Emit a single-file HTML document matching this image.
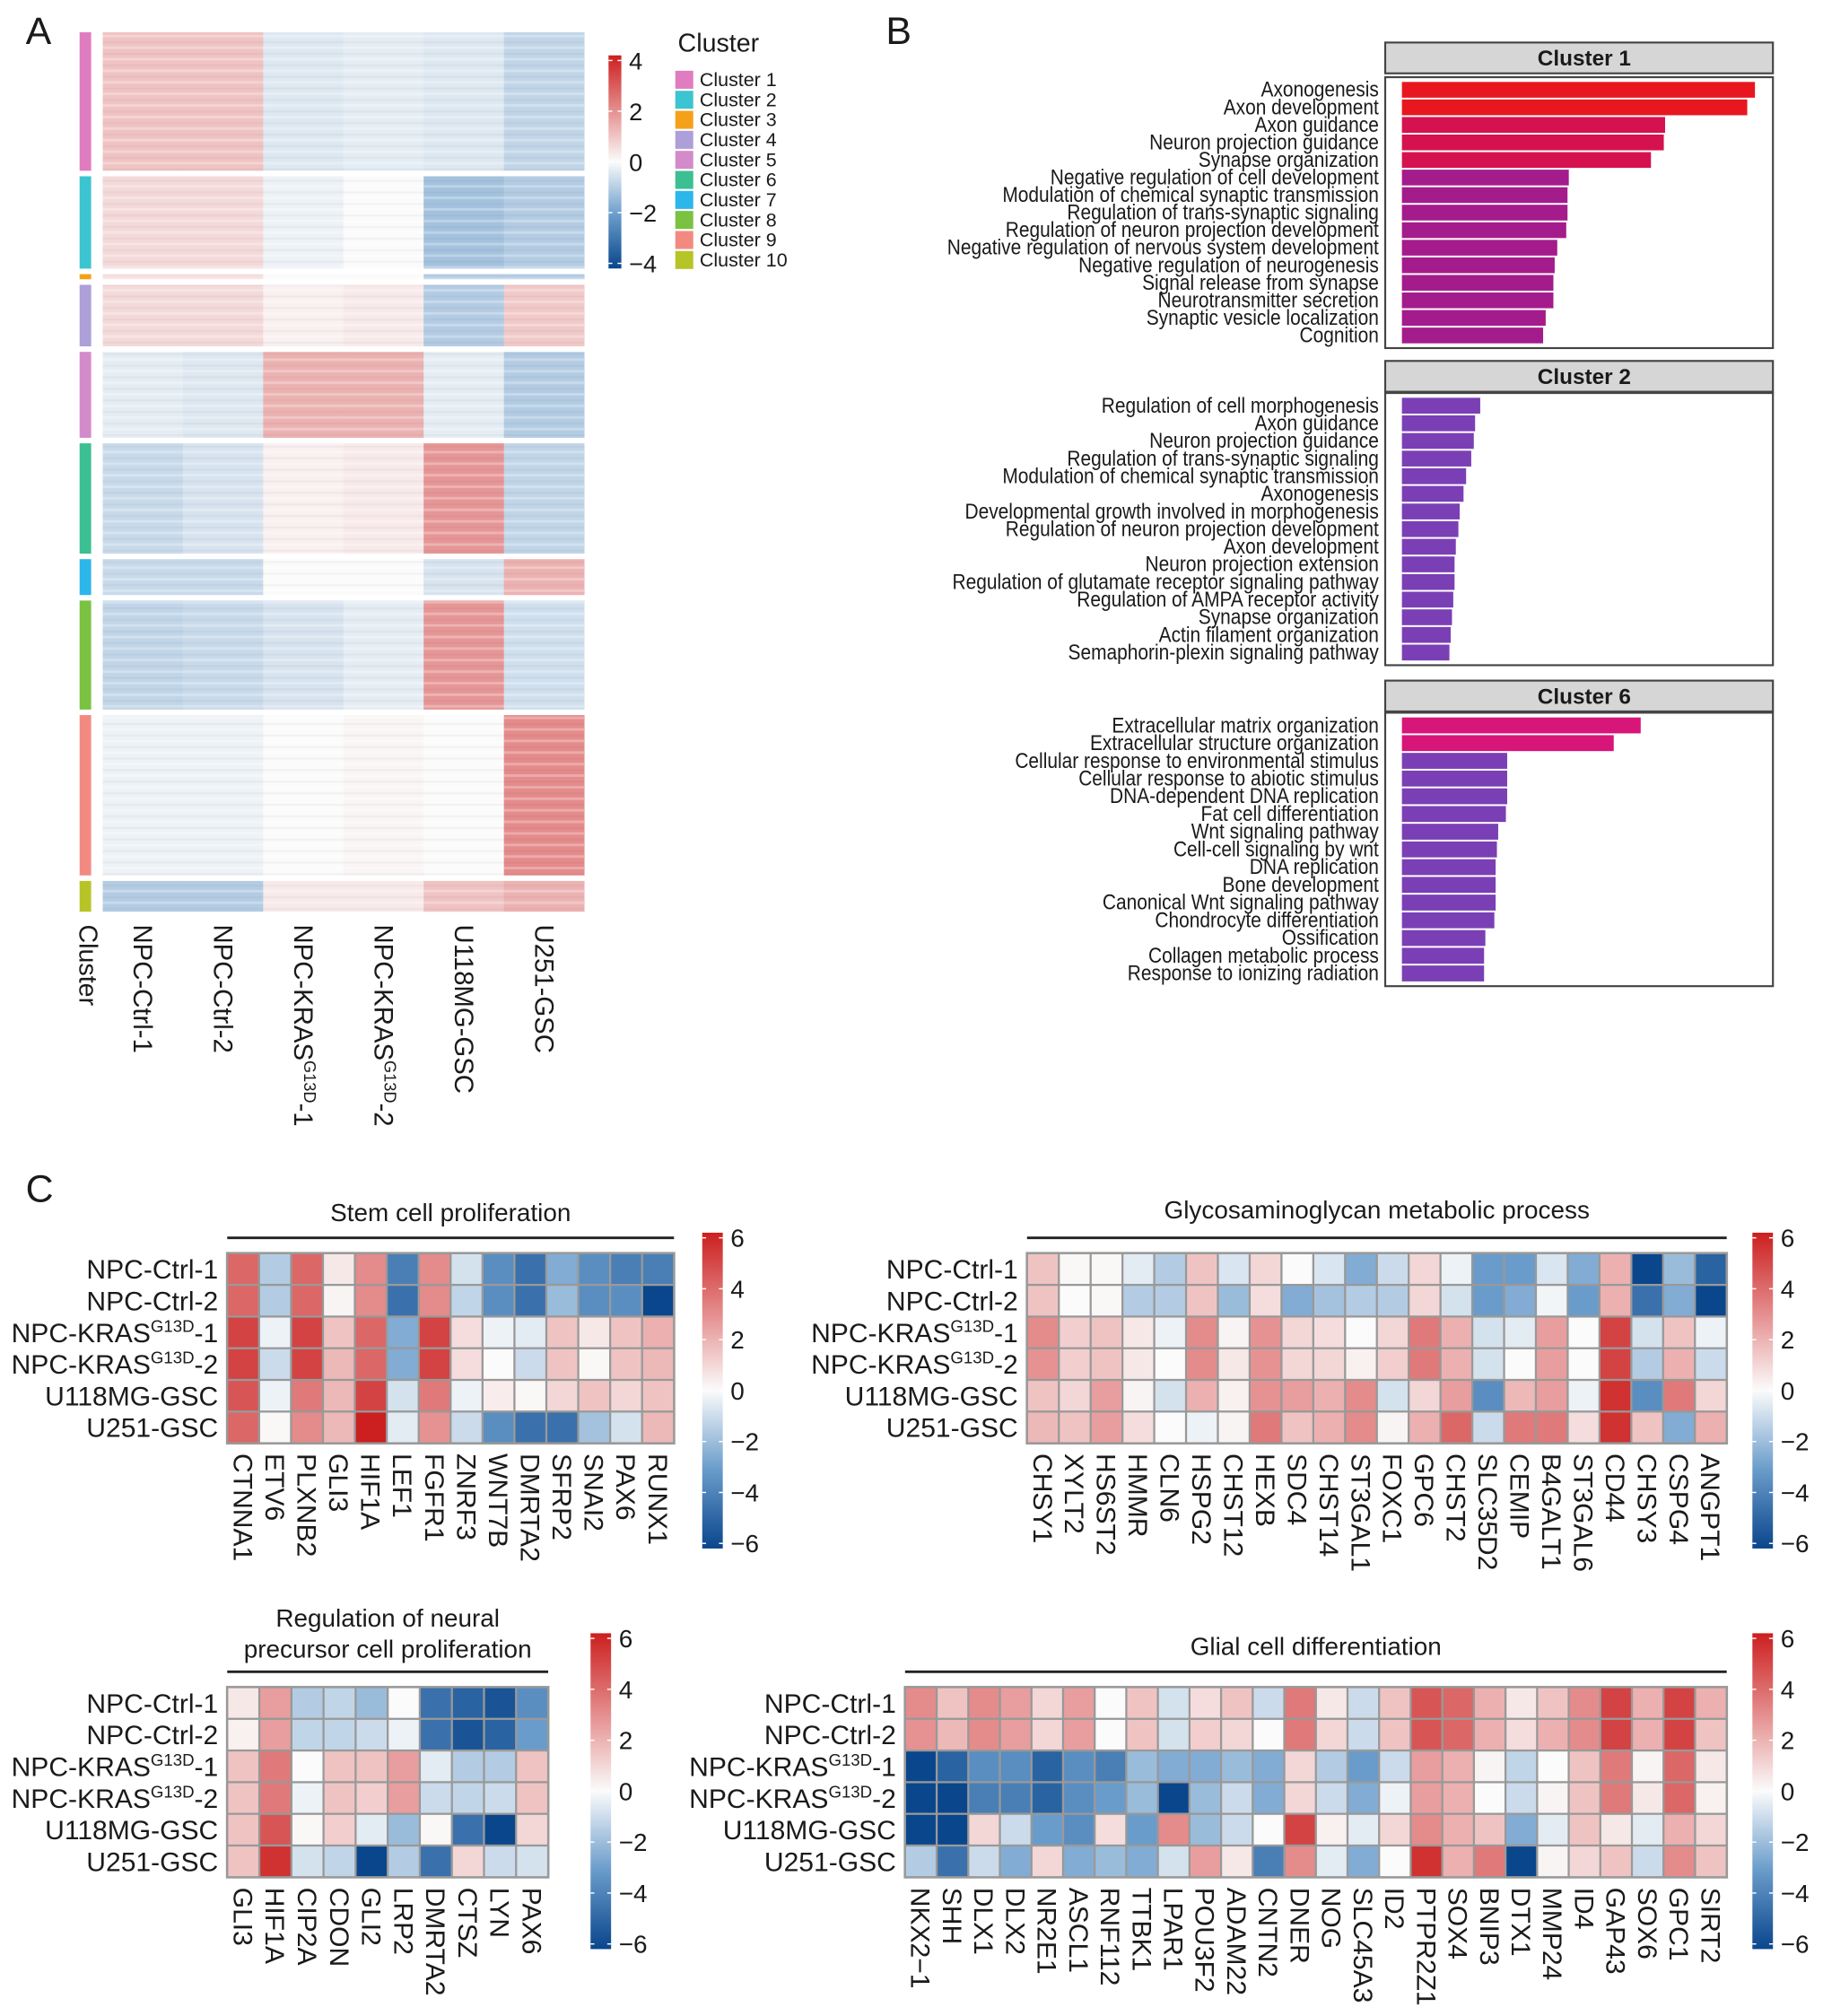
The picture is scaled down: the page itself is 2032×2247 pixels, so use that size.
<!DOCTYPE html>
<html><head><meta charset="utf-8"><style>
html,body{margin:0;padding:0;background:#fff}
svg{display:block}
text{font-family:"Liberation Sans",sans-serif;fill:#1a1a1a}
</style></head><body>
<svg id="fig" width="2032" height="2247" viewBox="0 0 1420 1570" xmlns="http://www.w3.org/2000/svg">
<text x="20" y="34" font-size="30">A</text>
<text x="690" y="34" font-size="30">B</text>
<text x="20" y="936" font-size="30">C</text>
</svg>
<script>
// ===== Panel A data =====
const samplesA = ["NPC-Ctrl-1","NPC-Ctrl-2","NPC-KRAS|-1","NPC-KRAS|-2","U118MG-GSC","U251-GSC"];
const clusterNames = ["Cluster 1","Cluster 2","Cluster 3","Cluster 4","Cluster 5","Cluster 6","Cluster 7","Cluster 8","Cluster 9","Cluster 10"];
const clusterSizes = [108,72,4,48,67,86,28,85,125,24];
const clusterColors = ["#e07cc0","#3cc4d0","#f5a01a","#ad9fd8","#d48bca","#3cbf92","#2cb6ea","#7bc243","#f28a82","#b7c428"];
const clusterMeans = [
 [1.0,1.0,-0.4,-0.3,-0.4,-0.8],
 [0.6,0.6,-0.2,0.0,-1.2,-1.0],
 [0.5,0.5,0.0,0.0,-1.0,-1.0],
 [0.6,0.6,0.2,0.3,-1.0,0.9],
 [-0.3,-0.4,1.3,1.3,-0.3,-1.0],
 [-0.7,-0.5,0.2,0.3,1.8,-0.8],
 [-0.7,-0.7,0.0,0.0,-0.5,1.3],
 [-0.8,-0.7,-0.5,-0.3,1.8,-0.6],
 [-0.2,-0.2,0.0,0.1,0.0,2.0],
 [-1.0,-1.0,0.3,0.3,1.0,1.3]];
const ticksA = [4,2,0,-2,-4];

// ===== Panel B data =====
const b1Terms = ["Axonogenesis","Axon development","Axon guidance","Neuron projection guidance","Synapse organization","Negative regulation of cell development","Modulation of chemical synaptic transmission","Regulation of trans-synaptic signaling","Regulation of neuron projection development","Negative regulation of nervous system development","Negative regulation of neurogenesis","Signal release from synapse","Neurotransmitter secretion","Synaptic vesicle localization","Cognition"];
const b1Vals = [275,269,205,204,194,130,129,129,128,121,119,118,118,112,110];
const b1Cols = ["#e8171f","#e8171f","#d5124f","#d5124f","#d5124f","#a41c8c","#a41c8c","#a41c8c","#a41c8c","#a41c8c","#a41c8c","#a41c8c","#a41c8c","#a41c8c","#a41c8c"];
const b2Terms = ["Regulation of cell morphogenesis","Axon guidance","Neuron projection guidance","Regulation of trans-synaptic signaling","Modulation of chemical synaptic transmission","Axonogenesis","Developmental growth involved in morphogenesis","Regulation of neuron projection development","Axon development","Neuron projection extension","Regulation of glutamate receptor signaling pathway","Regulation of AMPA receptor activity","Synapse organization","Actin filament organization","Semaphorin-plexin signaling pathway"];
const b2Vals = [61,57,56,54,50,48,45,44,42,41,41,40,39,38,37];
const b6Terms = ["Extracellular matrix organization","Extracellular structure organization","Cellular response to environmental stimulus","Cellular response to abiotic stimulus","DNA-dependent DNA replication","Fat cell differentiation","Wnt signaling pathway","Cell-cell signaling by wnt","DNA replication","Bone development","Canonical Wnt signaling pathway","Chondrocyte differentiation","Ossification","Collagen metabolic process","Response to ionizing radiation"];
const b6Vals = [186,165,82,82,82,81,75,74,73,73,73,72,65,64,64];
const b6Cols = ["#d81578","#d81578","#7b3fb5","#7b3fb5","#7b3fb5","#7b3fb5","#7b3fb5","#7b3fb5","#7b3fb5","#7b3fb5","#7b3fb5","#7b3fb5","#7b3fb5","#7b3fb5","#7b3fb5"];

// ===== Panel C data =====
const rowsC = ["NPC-Ctrl-1","NPC-Ctrl-2","NPC-KRAS|-1","NPC-KRAS|-2","U118MG-GSC","U251-GSC"];
const ticksC = [6,4,2,0,-2,-4,-6];
const stemGenes = ["CTNNA1","ETV6","PLXNB2","GLI3","HIF1A","LEF1","FGFR1","ZNRF3","WNT7B","DMRTA2","SFRP2","SNAI2","PAX6","RUNX1"];
const stemVals = [
 [4,-1.5,4,0.5,3,-4,3,-0.8,-3.5,-4.5,-2.5,-3.5,-4,-4],
 [4,-1.5,4,0.2,3,-4.5,3,-1.2,-3.5,-4.5,-2,-3.5,-3.5,-6],
 [5,-0.3,5,1.5,4,-2.5,5,0.8,-0.3,-0.5,1.5,0.5,1.5,2],
 [5,-1,5,1.8,4,-2.5,5,0.8,0,-1,1.5,0.1,1.5,1.8],
 [4.5,-0.3,3.5,1.8,5,-0.8,3.5,-0.3,0.4,0.1,1,1.5,1,1.5],
 [4,0.1,3,1.8,6,-0.5,2.8,-1,-3.5,-4.5,-4.5,-1.8,-0.8,1.8]];
const gagGenes = ["CHSY1","XYLT2","HS6ST2","HMMR","CLN6","HSPG2","CHST12","HEXB","SDC4","CHST14","ST3GAL1","FOXC1","GPC6","CHST2","SLC35D2","CEMIP","B4GALT1","ST3GAL6","CD44","CHSY3","CSPG4","ANGPT1"];
const gagVals = [
 [1.5,0.1,0.1,-0.5,-1.5,1.5,-0.7,1,0,-0.7,-2.5,-1,1,-0.3,-3,-3,-0.7,-2.5,2,-6,-2,-5],
 [1.5,0,0.1,-1.5,-1.5,1.5,-2,0.8,-2.5,-1.8,-1.5,-1.5,1,-0.8,-3,-2.5,-0.2,-3,2,-4.5,-2.5,-6],
 [3,1.2,1.5,0.5,-0.3,3,0.2,2.8,1,0.8,0,1,3.5,2,-0.8,-0.5,2.5,0,5,-0.8,1.5,-0.3],
 [2.8,1.2,1.5,0.5,0,3,0.5,2.8,1,1,0.3,1.2,3.5,2,-0.8,0,2.5,0,5,-1.5,2,-1],
 [1.5,1,2.5,0.2,-0.8,2,0.3,2.8,2.5,2,3,-0.8,1,2.5,-3.5,1.8,2.5,-0.3,5.5,-3.5,3.5,1],
 [1.8,1.5,2.5,0.8,0,-0.3,0.2,3.5,1.5,2,3,0.2,2,4,-1,3.5,3.5,0.8,5.5,1.5,-2.5,2]];
const npGenes = ["GLI3","HIF1A","CIP2A","CDON","GLI2","LRP2","DMRTA2","CTSZ","LYN","PAX6"];
const npVals = [
 [0.5,2.5,-1.5,-1.2,-2,0,-4.5,-5,-5.5,-3.5],
 [0.3,2.5,-1.2,-1.2,-1,-0.3,-4.5,-5.5,-5,-3],
 [1.5,3.5,0,1.5,1.5,2.5,-0.5,-1.5,-1.5,1.5],
 [1.5,3.5,-0.3,1.5,1.2,2.5,-1,-1.2,-1,1.5],
 [1.5,4.5,0.1,1.2,-0.5,-2,0.1,-4.5,-6,1],
 [1.5,5.5,-0.8,-1.2,-6,-1.5,-4.5,1,-1,-0.8]];
const glGenes = ["NKX2\u22121","SHH","DLX1","DLX2","NR2E1","ASCL1","RNF112","TTBK1","LPAR1","POU3F2","ADAM22","CNTN2","DNER","NOG","SLC45A3","ID2","PTPR2Z1","SOX4","BNIP3","DTX1","MMP24","ID4","GAP43","SOX6","GPC1","SIRT2"];
const glVals = [
 [3,1.5,3,2.5,1,2.5,0,1.5,-0.8,0.8,1.5,-1,3.5,0.5,-1,1.5,4.5,4,2,0.5,1.5,3,5,2,5,2],
 [2.8,1.8,3,2.5,1,2.5,0,1.5,-0.8,1.2,1,0,3.5,1,-1,1.5,4.5,4,2,0.8,2,3,5,2,5,1.5],
 [-6,-5,-3.5,-3.5,-5,-3.5,-4,-2,-2.5,-2.5,-2,-2.5,1,-1.5,-3,-1,2.5,2,0.2,-1.2,0,1.5,3.5,0.2,4,0.5],
 [-6,-6,-4,-4,-5,-3.5,-3,-2,-6,-2,-1,-2.5,1,-1,-2.5,-0.3,2.5,2,0,-1,0.2,1.5,3.5,0.5,4,0.3],
 [-6,-6,1,-1,-3,-3.5,0.8,-3,3,-2,-1,0,5,0.3,-0.5,1,3,2,1.5,-2.5,-0.5,1.5,0.5,-0.5,2,1],
 [-1.5,-4.5,-1,-2.5,1,-2.5,-2,-2.5,-0.8,2.5,0.5,-4,3,-0.5,-2.5,0,5.5,2,3.5,-6,0.2,1,1.5,-1,3,1.5]];

const NS="http://www.w3.org/2000/svg";
const svg=document.getElementById('fig');
function el(tag,attrs,parent,txt){const e=document.createElementNS(NS,tag);for(const k in attrs)e.setAttribute(k,attrs[k]);if(txt!==undefined)e.textContent=txt;(parent||svg).appendChild(e);return e;}
const stops=[[-1,[10,70,140]],[-0.5,[106,156,203]],[0,[251,251,251]],[0.5,[228,139,139]],[1,[204,31,31]]];
function cmap(v,max){let t=Math.max(-1,Math.min(1,v/max));for(let i=0;i<stops.length-1;i++){const a=stops[i],b=stops[i+1];if(t>=a[0]&&t<=b[0]){const f=(t-a[0])/(b[0]-a[0]);const c=a[1].map((x,j)=>Math.round(x+(b[1][j]-x)*f));return `rgb(${c[0]},${c[1]},${c[2]})`;}}return '#fff';}
function sampleLabel(parent,name,x,y,anchor,size,rot){
  const t=el('text',{x:x,y:y,'font-size':size,'text-anchor':anchor},parent);
  if(rot) t.setAttribute('transform',`rotate(90 ${x} ${y})`);
  if(name.indexOf('|')>=0){const p=name.split('|');el('tspan',{},t,p[0]);el('tspan',{'font-size':size*0.62,dy:-size*0.38},t,'G13D');el('tspan',{dy:size*0.38},t,p[1]);}
  else t.textContent=name;
  return t;
}
function colorbar(g,x,y,w,h,max,ticks,fs){
  const gid='cb'+Math.round(x)+'_'+Math.round(y);
  const lg=el('linearGradient',{id:gid,x1:0,y1:0,x2:0,y2:1},g);
  for(let i=0;i<=20;i++){el('stop',{offset:i/20,'stop-color':cmap(max-2*max*i/20,max)},lg);}
  const r=el('rect',{x:x,y:y,width:w,height:h,fill:`url(#${gid})`},g);
  
  
  ticks.forEach(v=>{const yy=y+4+(max-v)/(2*max)*(h-8);
    el('line',{x1:x,x2:x+3,y1:yy,y2:yy,stroke:'#fff','stroke-width':1},g);
    el('line',{x1:x+w-3,x2:x+w,y1:yy,y2:yy,stroke:'#fff','stroke-width':1},g);
    const t=el('text',{x:x+w+6,y:yy+7,'font-size':fs},g,v<0?'\u2212'+(-v):String(v));
    
    });
}

// ===== Panel A =====
(function(){
  const g=el('g',{});
  const x0=80,x1=455,y0=25,y1=710,gap=4.3;
  const total=clusterSizes.reduce((a,b)=>a+b,0);
  const unit=(y1-y0-gap*(clusterSizes.length-1))/total;
  const cw=(x1-x0)/samplesA.length;
  const pat=el('pattern',{id:'stripes',width:10,height:9,patternUnits:'userSpaceOnUse'},g);
  el('rect',{x:0,y:0,width:10,height:2,fill:'rgba(255,255,255,0.28)'},pat);
  el('rect',{x:0,y:5,width:10,height:1.5,fill:'rgba(0,0,0,0.035)'},pat);
  let y=y0;
  clusterSizes.forEach((n,ci)=>{
    const h=n*unit;
    const s=el('rect',{x:62,y:y,width:9,height:h,fill:clusterColors[ci]},g);
    
    
    clusterMeans[ci].forEach((v,j)=>{
      const r=el('rect',{x:x0+j*cw,y:y,width:cw+0.3,height:h,fill:cmap(v,4)},g);
      
      
    });
    el('rect',{x:x0,y:y,width:x1-x0,height:h,fill:'url(#stripes)'},g);
    y+=h+gap;
  });
  const cl=el('text',{x:62,y:720,'font-size':20,transform:'rotate(90 62 720)'},g,'Cluster');
  
  samplesA.forEach((s,j)=>{const t=sampleLabel(g,s,x0+j*cw+cw/2-7,720,'start',20.5,true);
    });
  colorbar(g,474,43,10,166,4,ticksA,19);
  const lt=el('text',{x:528,y:40,'font-size':20},g,'Cluster');
  
  clusterNames.forEach((n,i)=>{
    const ly=55+i*15.6;
    const k=el('rect',{x:526,y:ly,width:14,height:14,fill:clusterColors[i]},g);
    
    const t=el('text',{x:545,y:ly+12,'font-size':15},g,n);
    
  });
})();

// ===== Panel B =====
function facet(title,terms,vals,cols,sy,py,ph){
  const g=el('g',{});
  const st=el('rect',{x:1079,y:sy,width:302,height:24,fill:'#d6d6d6',stroke:'#444','stroke-width':1.5},g);
  
  const tt=el('text',{x:1234,y:sy+18,'font-size':17,'font-weight':'bold','text-anchor':'middle'},g,title);
  
  el('rect',{x:1079,y:py,width:302,height:ph,fill:'#fff',stroke:'#444','stroke-width':1.5},g);
  const step=(ph-6)/terms.length;
  const lg=el('g',{transform:'translate(1074,0) scale(0.86,1) translate(-1074,0)'},g);
  terms.forEach((t,i)=>{
    const yy=py+3+i*step;
    const b=el('rect',{x:1092,y:yy+0.7,width:vals[i],height:step-1.4,fill:cols[i]},g);
    
    const tx=el('text',{x:1074,y:yy+step-1.5,'font-size':17,'text-anchor':'end'},lg,t);
    
  });
}
facet('Cluster 1',b1Terms,b1Vals,b1Cols,33,60,211);
facet('Cluster 2',b2Terms,b2Vals,b2Terms.map(()=>'#7b3fb5'),281,306,212);
facet('Cluster 6',b6Terms,b6Vals,b6Cols,530,555,213);

// ===== Panel C =====
function cheat(name,titleLines,genes,vals,x0,x1,y0,y1,lineY,titleY,cbx,cby){
  const g=el('g',{});
  titleLines.forEach((tl,i)=>{const t=el('text',{x:(x0+x1)/2,y:titleY+i*24,'font-size':19.5,'text-anchor':'middle'},g,tl);
    });
  el('line',{x1:x0,x2:x1,y1:lineY,y2:lineY,stroke:'#222','stroke-width':2},g);
  const cw=(x1-x0)/genes.length,rh=(y1-y0)/rowsC.length;
  el('rect',{x:x0-1,y:y0-1,width:x1-x0+2,height:y1-y0+2,fill:'#999'},g);
  vals.forEach((row,i)=>row.forEach((v,j)=>{
    const c=el('rect',{x:x0+j*cw+0.8,y:y0+i*rh+0.8,width:cw-1.6,height:rh-1.6,fill:cmap(v,6)},g);
    
  }));
  rowsC.forEach((r,i)=>{const t=sampleLabel(g,r,x0-7,y0+i*rh+rh/2+7.5,'end',21,false);
    });
  genes.forEach((gn,j)=>{const x=x0+j*cw+cw/2-7.5;const t=el('text',{x:x,y:y1+8,'font-size':21,transform:`rotate(90 ${x} ${y1+8})`},g,gn);
    });
  colorbar(g,cbx,cby,16,246,6,ticksC,19.5);
}
cheat('stem-cell-proliferation-heatmap',['Stem cell proliferation'],stemGenes,stemVals,177,525,976,1124,964,951,547,960);
cheat('glycosaminoglycan-heatmap',['Glycosaminoglycan metabolic process'],gagGenes,gagVals,800,1345,976,1124,964,949,1365,960);
cheat('neural-precursor-heatmap',['Regulation of neural','precursor cell proliferation'],npGenes,npVals,177,427,1314,1462,1302,1267,460,1272);
cheat('glial-differentiation-heatmap',['Glial cell differentiation'],glGenes,glVals,705,1345,1314,1462,1302,1289,1365,1272);
</script>
</body></html>
